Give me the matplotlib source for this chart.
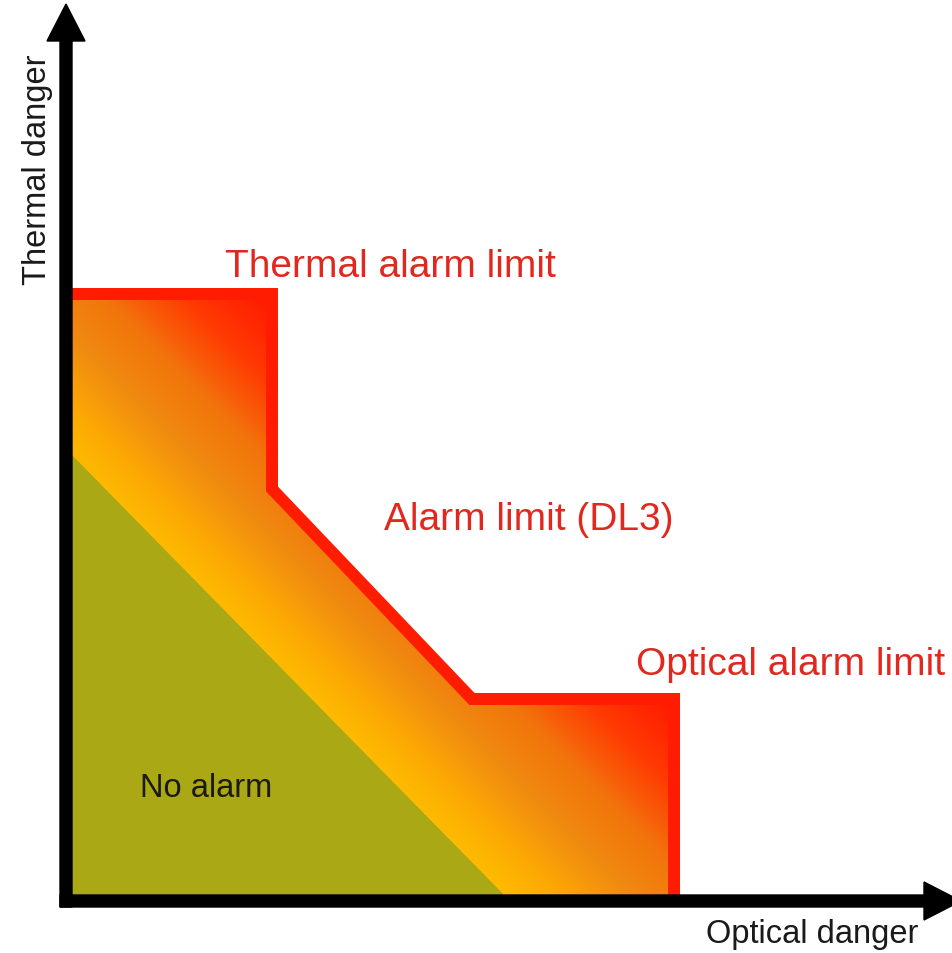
import matplotlib
matplotlib.use('Agg')
import matplotlib.pyplot as plt
import numpy as np
from matplotlib.colors import LinearSegmentedColormap
from matplotlib.patches import Polygon, FancyArrow

# alarm boundary (optical, thermal), origin at the axis corner
limit_x = [0, 206, 206, 406, 608, 608]
limit_y = [607, 607, 412, 202, 202, 0]
# "no alarm" triangle intercepts
no_alarm_x = 444
no_alarm_y = 452

labels = {
    'thermal': 'Thermal alarm limit',
    'dl3': 'Alarm limit (DL3)',
    'optical': 'Optical alarm limit',
    'none': 'No alarm',
}
axis_x_label = 'Optical danger'
axis_y_label = 'Thermal danger'

RED_LINE = '#ff1c00'
RED_TEXT = '#e0281f'
GREEN = '#aba816'

plt.rcParams['font.family'] = ['Liberation Sans', 'DejaVu Sans']

fig = plt.figure(figsize=(9.52, 9.54), dpi=100)
fig.patch.set_facecolor('white')
ax = fig.add_axes([0, 0, 1, 1])
ax.set_xlim(-66, 886)
ax.set_ylim(-52, 902)
ax.axis('off')

# gradient fill, bands parallel to the diagonal
cmap = LinearSegmentedColormap.from_list(
    'alarm', [(0.0, '#ffba00'), (0.15, '#fca804'), (0.35, '#f08a10'),
              (0.55, '#f2740c'), (0.78, '#ff3a02'), (1.0, '#ff1c00')])
gx, gy = np.meshgrid(np.linspace(0, 620, 400), np.linspace(0, 620, 400))
u = gx + gy
img = ax.imshow(u, cmap=cmap, vmin=no_alarm_x + 4, vmax=800, origin='lower',
                extent=(0, 620, 0, 620), interpolation='bilinear', zorder=1, aspect='auto')
outline = [(0, 0)] + list(zip(limit_x, limit_y)) + [(608, 0)]
clip = Polygon(outline, closed=True, transform=ax.transData, facecolor='none', edgecolor='none')
ax.add_patch(clip)
img.set_clip_path(clip)

# no alarm region
ax.add_patch(Polygon([(0, 0), (0, no_alarm_y), (no_alarm_x, 0)], closed=True,
                     facecolor=GREEN, edgecolor='none', zorder=2))

# alarm limit line
ax.plot(limit_x, limit_y, color=RED_LINE, lw=12 * 72 / 100, solid_joinstyle='miter',
        solid_capstyle='butt', zorder=3)

# axes with arrow heads
ax.add_patch(FancyArrow(0, -6, 0, 903, width=12, head_width=38, head_length=37,
                        length_includes_head=True, color='black', zorder=5))
ax.add_patch(FancyArrow(-6, 0, 901, 0, width=12, head_width=38, head_length=37,
                        length_includes_head=True, color='black', zorder=5))

ax.text(159, 625, labels['thermal'], color=RED_TEXT, fontsize=28, ha='left', va='baseline')
ax.text(318, 372, labels['dl3'], color=RED_TEXT, fontsize=28, ha='left', va='baseline')
ax.text(570, 227, labels['optical'], color=RED_TEXT, fontsize=28, ha='left', va='baseline')
ax.text(74, 105, labels['none'], color='#1a1a10', fontsize=23.5, ha='left', va='baseline', zorder=4)
ax.text(640, -41, axis_x_label, color='#1a1a1a', fontsize=23.5, ha='left', va='baseline')
ax.text(-28, 732, axis_y_label, color='#1a1a1a', fontsize=23.5, rotation=90,
        ha='center', va='center')

fig.savefig('out.png', dpi=100, facecolor='white')
